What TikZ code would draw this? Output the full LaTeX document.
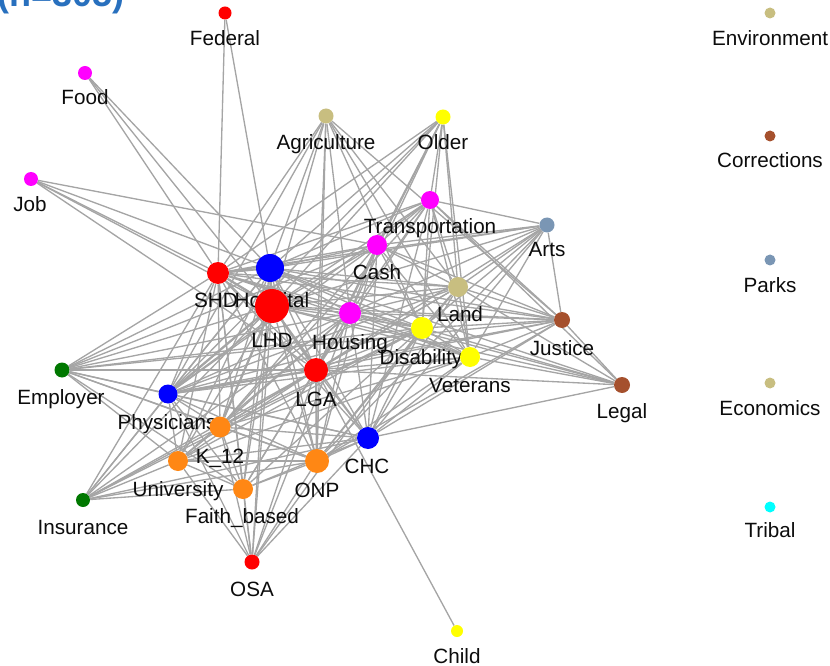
\documentclass[tikz,border=0pt]{standalone}
\usepackage{fontspec}
\setmainfont{Liberation Sans}
\pgfdeclarelayer{edges}
\pgfsetlayers{edges,main}
\definecolor{cred}{RGB}{255,0,0}
\definecolor{cblue}{RGB}{0,0,255}
\definecolor{cmag}{RGB}{255,0,255}
\definecolor{cyel}{RGB}{255,255,0}
\definecolor{ckhaki}{RGB}{200,190,128}
\definecolor{corange}{RGB}{255,135,20}
\definecolor{cgreen}{RGB}{0,120,0}
\definecolor{cbrown}{RGB}{165,80,45}
\definecolor{cslate}{RGB}{122,150,180}
\definecolor{ccyan}{RGB}{0,255,255}
\definecolor{edgegray}{RGB}{165,165,165}
\definecolor{txt}{RGB}{12,12,12}
\definecolor{titleblue}{RGB}{40,112,190}
\tikzset{
  vtx/.style={circle, inner sep=0pt, draw=none},
  lbl/.style={anchor=base, inner sep=0pt, text=txt, font=\fontsize{15.5}{18}\selectfont},
  edge/.style={draw=edgegray, line width=1pt},
  thick edge/.style={draw=edgegray, line width=1.7pt},
}
\newcommand\gnode[8]{%
  \node[vtx, minimum size=#4*0.75pt, fill=#5] (#1) at (#2,#3) {};
  \node[lbl] (#1L) at (#6,#7+7) {#8};}
\begin{document}
\begin{tikzpicture}[x=0.75pt, y=-0.75pt]
\useasboundingbox (0,0) rectangle (830,666);
\clip (0,0) rectangle (830,666);
\node[anchor=base west, inner sep=0pt, text=titleblue, font=\bfseries\fontsize{27}{30}\selectfont] (title) at (-3,7) {(n=305)};
% nodes
\gnode{fed}{225}{13}{13}{cred}{225}{39}{Federal}
\gnode{food}{85}{73}{14}{cmag}{85}{98}{Food}
\gnode{job}{31}{179}{14}{cmag}{30}{205}{Job}
\gnode{agr}{326}{116}{15}{ckhaki}{326}{143}{Agriculture}
\gnode{old}{443}{117}{15}{cyel}{443}{143}{Older}
\gnode{trn}{430}{200}{18}{cmag}{430}{227}{Transportation}
\gnode{arts}{547}{225}{15}{cslate}{547}{250}{Arts}
\gnode{cash}{377}{245}{20}{cmag}{377}{272}{Cash}
\gnode{shd}{218}{273}{22}{cred}{216}{300}{SHD}
\gnode{hos}{270}{268}{28}{cblue}{272}{300}{Hospital}
\gnode{lhd}{272}{306}{34}{cred}{272}{340}{LHD}
\gnode{land}{458}{287}{20}{ckhaki}{460}{314}{Land}
\gnode{hsg}{350}{313}{22}{cmag}{350}{342}{Housing}
\gnode{jus}{562}{320}{16}{cbrown}{562}{348}{Justice}
\gnode{dis}{422}{328}{22}{cyel}{421}{357}{Disability}
\gnode{vet}{470}{357}{20}{cyel}{470}{385}{Veterans}
\gnode{legal}{622}{385}{16}{cbrown}{622}{411}{Legal}
\gnode{emp}{62}{370}{15}{cgreen}{61}{397}{Employer}
\gnode{lga}{316}{370}{24}{cred}{316}{399}{LGA}
\gnode{phy}{168}{394}{19}{cblue}{167}{422}{Physicians}
\gnode{k12}{220}{427}{21}{corange}{220}{456}{K\_12}
\gnode{uni}{178}{461}{20}{corange}{178}{489}{University}
\gnode{fb}{243}{489}{20}{corange}{242}{516}{Faith\_based}
\gnode{onp}{317}{461}{24}{corange}{317}{490}{ONP}
\gnode{chc}{368}{438}{22}{cblue}{367}{466}{CHC}
\gnode{ins}{83}{500}{14}{cgreen}{83}{527}{Insurance}
\gnode{osa}{252}{562}{15}{cred}{252}{589}{OSA}
\gnode{child}{457}{631}{12}{cyel}{457}{656}{Child}
% legend
\gnode{envL}{770}{13}{11}{ckhaki}{770}{39}{Environment}
\gnode{corL}{770}{136}{11}{cbrown}{770}{161}{Corrections}
\gnode{parL}{770}{260}{11}{cslate}{770}{285}{Parks}
\gnode{ecoL}{770}{383}{11}{ckhaki}{770}{408}{Economics}
\gnode{triL}{770}{507}{11}{ccyan}{770}{530}{Tribal}
% edges
\begin{pgfonlayer}{edges}
\foreach \a/\b in {fed/shd, fed/hos, food/shd, food/hos, food/lhd,
  job/shd, job/hos, job/lhd, job/lga, job/cash,
  agr/phy, agr/shd, agr/hos, agr/lhd, agr/lga, agr/hsg, agr/dis, agr/land, agr/vet, agr/jus, agr/onp,
  old/phy, old/shd, old/hos, old/lhd, old/lga, old/hsg, old/cash, old/trn, old/land, old/dis, old/vet,
  trn/shd, trn/hos, trn/lhd, trn/lga, trn/cash, trn/hsg, trn/dis, trn/vet, trn/land, trn/arts, trn/jus, trn/legal, trn/chc, trn/phy, trn/k12,
  arts/shd, arts/hos, arts/lhd, arts/cash, arts/hsg, arts/lga, arts/land, arts/dis, arts/vet, arts/chc, arts/onp, arts/jus,
  jus/shd, jus/hos, jus/lhd, jus/lga, jus/hsg, jus/cash, jus/land, jus/dis, jus/vet, jus/chc, jus/onp, jus/phy, jus/emp, jus/legal,
  legal/vet, legal/dis, legal/land, legal/lga, legal/hsg, legal/lhd, legal/hos, legal/chc,
  emp/shd, emp/hos, emp/lhd, emp/hsg, emp/lga, emp/phy, emp/k12, emp/onp, emp/chc, emp/fb, emp/uni, emp/cash, emp/dis,
  ins/shd, ins/hos, ins/lhd, ins/lga, ins/phy, ins/k12, ins/uni, ins/fb, ins/onp, ins/chc, ins/hsg, ins/dis,
  osa/uni, osa/k12, osa/fb, osa/phy, osa/shd, osa/hos, osa/lhd, osa/lga, osa/onp, osa/chc, osa/hsg, osa/dis,
  child/lga}
  \draw[edge] (\a) -- (\b);
\foreach \a/\b in {shd/hos, shd/lhd, shd/lga, shd/hsg, shd/cash, shd/land, shd/dis, shd/vet, shd/phy, shd/k12, shd/uni, shd/fb, shd/onp, shd/chc,
  hos/lhd, hos/lga, hos/hsg, hos/cash, hos/land, hos/dis, hos/vet, hos/phy, hos/k12, hos/uni, hos/fb, hos/onp, hos/chc,
  lhd/lga, lhd/hsg, lhd/cash, lhd/land, lhd/dis, lhd/vet, lhd/phy, lhd/k12, lhd/uni, lhd/fb, lhd/onp, lhd/chc,
  lga/hsg, lga/cash, lga/land, lga/dis, lga/vet, lga/phy, lga/k12, lga/uni, lga/fb, lga/onp, lga/chc,
  hsg/cash, hsg/land, hsg/dis, hsg/vet, hsg/phy, hsg/k12, hsg/uni, hsg/fb, hsg/onp, hsg/chc,
  cash/land, cash/dis, cash/vet, cash/phy, cash/k12, cash/onp, cash/chc,
  land/dis, land/vet, land/phy, land/k12, land/onp, land/chc,
  dis/vet, dis/phy, dis/k12, dis/uni, dis/fb, dis/onp, dis/chc,
  vet/phy, vet/k12, vet/uni, vet/onp, vet/chc,
  phy/k12, phy/uni, phy/fb, phy/onp, phy/chc,
  k12/uni, k12/fb, k12/onp, k12/chc,
  uni/fb, uni/onp, uni/chc, fb/onp, fb/chc, onp/chc}
  \draw[edge] (\a) -- (\b);
\foreach \a/\b in {lhd/hos, lhd/shd, lhd/lga, hos/shd, lhd/phy, lga/onp, lhd/k12, lga/phy}
  \draw[thick edge] (\a) -- (\b);
\end{pgfonlayer}
\end{tikzpicture}
\end{document}
